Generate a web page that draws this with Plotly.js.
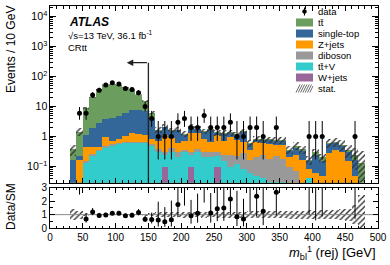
<!DOCTYPE html>
<html><head><meta charset="utf-8">
<script src="https://cdn.plot.ly/plotly-3.0.1.min.js"></script>
<style>html,body{margin:0;padding:0;background:#fff}#chart{width:390px;height:265px}</style>
</head><body><div id="chart"></div>
<script>
// ---- data (bins of 10 GeV, lower edges) ----
const binLow = [30,40,50,60,70,80,90,100,110,120,
  130,140,150,160,170,180,190,200,210,220,
  230,240,250,260,270,280,290,300,310,320,
  330,340,350,360,370,380,390,400,410,420,
  430,440,450,460,470];
const binWidth = 10;
const dataCounts = [0,6,6,24,35,52,62,56,40,37,
  29,10,4,1,1,1,3,4,2,2,
  5,2,2,2,3,1,1,2,2,1,
  0,2,0,0,0,0,1,1,1,0,
  0,0,0,1,0];
const ttbar = [0.2,1.22,7.9,18.1,34.7,49.3,51.7,45.7,37.8,30.6,
  17.45,8.3,2.2,0.14,0.1,0.1,0.1,0.1,0.1,0.07,
  0.1,0.12,0.08,0.08,0.1,0.06,0.1,0.04,0.05,0.04,
  0.04,0.05,0.04,0.02,0.1,0.05,0.02,0.06,0.05,0.07,
  0.08,0.06,0.06,0.08,0.13];
const singleTop = [0.17,0.07,0.66,1.43,2.45,2.7,3.6,4.0,5.15,6.6,
  6.3,6.0,3.2,0.8,0.9,0.6,1.0,0.45,0.8,0.45,
  0.6,1.0,0.2,0.55,0.28,0.35,0.72,0.2,0.14,0.17,
  0.18,0.17,0.2,0.14,0.15,0.15,0.07,0.18,0.1,0.27,
  0.25,0.18,0.15,0.12,0];
const zjets = [0,0.16,0.31,0.18,0.1,0.5,0.15,0.2,0.4,0.65,
  0.6,0.45,0.25,0.35,0.8,0.5,0.3,0.35,1.0,0.9,
  0.5,0.35,0.8,0.45,0.75,0.55,0.4,0.2,0.45,0.35,
  0.4,0.3,0.35,0.1,0.18,0.15,0.04,0.06,0.05,0.28,
  0.35,0.3,0.15,0.05,0];
const diboson = [0,0,0.02,0.04,0.03,0.08,0.05,0.05,0.05,0.05,
  0.05,0.05,0.05,0.08,0.05,0.1,0.1,0.05,0.05,0.08,
  0.1,0.1,0.08,0.1,0.15,0.1,0.2,0.1,0.15,0.2,
  0.15,0.2,0.15,0.08,0.05,0.02,0,0,0,0,
  0,0,0,0,0];
const ttV = [0,0,0.13,0.22,0.32,0.42,0.5,0.55,0.6,0.6,
  0.6,0.6,0.5,0.3,0.15,0.3,0.2,0.3,0.15,0.3,
  0.2,0.2,0.12,0.15,0.1,0.12,0.08,0.06,0.05,0.04,
  0.03,0.03,0.03,0.02,0.02,0,0.04,0,0,0,
  0,0,0,0,0];
const wjets = [0,0,0,0,0,0,0,0,0,0,
  0,0,0,0,0.1,0,0,0,0.1,0,
  0,0,0.1,0,0,0,0,0,0,0,
  0,0,0,0,0,0,0,0,0,0,
  0,0,0,0,0];
const relStat = [0.4,0.3,0.1,0.06,0.04,0.04,0.035,0.035,0.04,0.04,
  0.05,0.07,0.1,0.2,0.2,0.2,0.2,0.22,0.2,0.2,
  0.22,0.2,0.22,0.22,0.22,0.22,0.22,0.25,0.25,0.25,
  0.25,0.25,0.25,0.3,0.3,0.3,0.35,0.3,0.35,0.35,
  0.35,0.4,0.45,0.7,1.5];

const colors = {tt:'#6a9d5e', st:'#336699', z:'#ff9900', vv:'#999999', ttv:'#33cccc', w:'#996699'};
const FONT = 'Liberation Sans, Arial, Helvetica, sans-serif';

// ---- derived ----
const centers = binLow.map(b => b + binWidth/2);
const add = (a,b) => a.map((v,i)=>v+b[i]);
const cumW = wjets.slice();
const cumTTV = add(cumW, ttV);
const cumVV = add(cumTTV, diboson);
const cumZ = add(cumVV, zjets);
const cumST = add(cumZ, singleTop);
const total = add(cumST, ttbar);
const nz = a => a.map(v => v > 0 ? v : null);

function garwood(n){
  const lo = n>0 ? n*Math.pow(1 - 1/(9*n) - 1/(3*Math.sqrt(n)),3) : 0;
  const m = n+1;
  const hi = m*Math.pow(1 - 1/(9*m) + 1/(3*Math.sqrt(m)),3);
  return [lo, hi];
}
const dX=[], dY=[], dUp=[], dDn=[], rY=[], rUp=[], rDn=[];
binLow.forEach((b,i)=>{
  const n = dataCounts[i];
  if(n<=0) return;
  const [lo,hi] = garwood(n);
  dX.push(centers[i]); dY.push(n); dUp.push(hi-n); dDn.push(n-lo);
  rY.push(n/total[i]); rUp.push((hi-n)/total[i]); rDn.push((n-lo)/total[i]);
});

function barTrace(y, color, name){
  return {type:'bar', x:centers, y:nz(y), width:binWidth, name:name,
    marker:{color:color, line:{width:0}}, xaxis:'x', yaxis:'y', hoverinfo:'skip', showlegend:false};
}
const hatch = {shape:'/', fgcolor:'#333', bgcolor:'rgba(0,0,0,0)', size:4, solidity:0.35};
const bandBase = total.map((t,i)=>Math.max(t*(1-relStat[i]), 1e-3));
const bandH = total.map((t,i)=>t*(1+relStat[i]) - bandBase[i]);
const rBase = relStat.map(r=>1-r);
const rH = relStat.map(r=>2*r);

const arrowY = 288;
const traces = [
  barTrace(total, colors.tt, 'tt'),
  barTrace(cumST, colors.st, 'single-top'),
  barTrace(cumZ, colors.z, 'Z+jets'),
  barTrace(cumVV, colors.vv, 'diboson'),
  barTrace(cumTTV, colors.ttv, 'ttV'),
  barTrace(cumW, colors.w, 'W+jets'),
  {type:'bar', x:centers, y:bandH, base:bandBase, width:binWidth, xaxis:'x', yaxis:'y',
    marker:{color:'rgba(0,0,0,0)', line:{width:0}, pattern:hatch}, hoverinfo:'skip', showlegend:false},
  {type:'scatter', mode:'lines', x:[150,150], y:[0.001, arrowY], line:{color:'#222', width:1.3},
    xaxis:'x', yaxis:'y', showlegend:false, hoverinfo:'skip'},
  {type:'scatter', mode:'markers', x:dX, y:dY, marker:{color:'black', size:5},
    error_y:{type:'data', symmetric:false, array:dUp, arrayminus:dDn, color:'black', thickness:1, width:0},
    xaxis:'x', yaxis:'y', showlegend:false, hoverinfo:'skip'},
  // ratio
  {type:'bar', x:centers, y:rH, base:rBase, width:binWidth, xaxis:'x2', yaxis:'y2',
    marker:{color:'rgba(0,0,0,0)', line:{width:0}, pattern:hatch}, hoverinfo:'skip', showlegend:false},
  {type:'scatter', mode:'lines', x:[0,500], y:[1,1], line:{color:'#888', width:1},
    xaxis:'x2', yaxis:'y2', showlegend:false, hoverinfo:'skip'},
  {type:'scatter', mode:'markers', x:dX, y:rY, marker:{color:'black', size:5},
    error_y:{type:'data', symmetric:false, array:rUp, arrayminus:rDn, color:'black', thickness:1, width:0},
    xaxis:'x2', yaxis:'y2', showlegend:false, hoverinfo:'skip', cliponaxis:true}
];

// pixel helpers for paper coordinates (plot area: px 50..378, py 6..228)
const L=50, W=328, T=6, H=222;
const PX = p => (p-L)/W;
const PY = p => (T+H-p)/H;

const shapes = [];
const annotations = [
  {xref:'paper', yref:'paper', x:PX(67), y:PY(22), xanchor:'left', yanchor:'middle', showarrow:false,
    text:'<b><i>ATLAS</i></b>', font:{family:FONT, size:12, color:'#000'}},
  {xref:'paper', yref:'paper', x:PX(66), y:PY(35), xanchor:'left', yanchor:'middle', showarrow:false,
    text:'\u221As=13 TeV, 36.1 fb<sup>-1</sup>', font:{family:FONT, size:9.5, color:'#000'}},
  {xref:'paper', yref:'paper', x:PX(66), y:PY(48), xanchor:'left', yanchor:'middle', showarrow:false,
    text:'CRtt', font:{family:FONT, size:9.5, color:'#000'}},
  {xref:'paper', yref:'paper', x:PX(11), y:PY(50), xanchor:'center', yanchor:'middle', showarrow:false,
    textangle:-90, text:'Events / 10 GeV', font:{family:FONT, size:12, color:'#000'}},
  {xref:'paper', yref:'paper', x:PX(11), y:PY(207), xanchor:'center', yanchor:'middle', showarrow:false,
    textangle:-90, text:'Data/SM', font:{family:FONT, size:12, color:'#000'}},
  {xref:'paper', yref:'paper', x:PX(378), y:PY(253), xanchor:'right', yanchor:'middle', showarrow:false,
    text:'<i>m</i><sub>bl</sub><sup>1</sup> (rej) [GeV]', font:{family:FONT, size:13, color:'#000'}},
  {xref:'x', yref:'y', x:117, y:Math.log10(arrowY), axref:'x', ayref:'y', ax:150, ay:Math.log10(arrowY),
    showarrow:true, arrowhead:2, arrowsize:1, arrowwidth:1.3, arrowcolor:'#222', text:''}
];

// legend
const legItems = [
  {name:'data', kind:'data'},
  {name:'tt\u0304', kind:'box', color:colors.tt},
  {name:'single-top', kind:'box', color:colors.st},
  {name:'Z+jets', kind:'box', color:colors.z},
  {name:'diboson', kind:'box', color:colors.vv},
  {name:'tt\u0304+V', kind:'box', color:colors.ttv},
  {name:'W+jets', kind:'box', color:colors.w},
  {name:'stat.', kind:'hatch'}
];
legItems.forEach((it,k)=>{
  const yc = 11.5 + 11*k;
  const x0 = 296, x1 = 313;
  if(it.kind==='box'){
    shapes.push({type:'rect', xref:'paper', yref:'paper', x0:PX(x0), x1:PX(x1), y0:PY(yc+4), y1:PY(yc-4),
      fillcolor:it.color, line:{width:0}});
  } else if(it.kind==='data'){
    shapes.push({type:'line', xref:'paper', yref:'paper', x0:PX(304.5), x1:PX(304.5), y0:PY(yc+4), y1:PY(yc-4),
      line:{color:'#000', width:1}});
    shapes.push({type:'circle', xref:'paper', yref:'paper', x0:PX(302.5), x1:PX(306.5), y0:PY(yc+2), y1:PY(yc-2),
      fillcolor:'#000', line:{color:'#000', width:0.5}});
  } else {
    for(let j=0;j<7;j++){
      const a = x0 + 2.3*j;
      shapes.push({type:'line', xref:'paper', yref:'paper', x0:PX(a), y0:PY(yc+4), x1:PX(Math.min(a+4, x1)), y1:PY(yc+4-8*Math.min(1,(x1-a)/4)),
        line:{color:'#444', width:0.8}});
    }
  }
  annotations.push({xref:'paper', yref:'paper', x:PX(316), y:PY(yc), xanchor:'left', yanchor:'middle',
    showarrow:false, text:it.name, font:{family:FONT, size:9.5, color:'#000'}});
});

const axCommon = {showline:true, linecolor:'#000', linewidth:1, mirror:'ticks', ticks:'inside',
  tickcolor:'#000', zeroline:false, showgrid:false, fixedrange:true};
const layout = {
  width:390, height:265, margin:{l:L, r:390-L-W, t:T, b:265-T-H},
  paper_bgcolor:'#fff', plot_bgcolor:'#fff', barmode:'overlay', bargap:0, showlegend:false,
  font:{family:FONT, color:'#000', size:10},
  xaxis:Object.assign({}, axCommon, {domain:[0,1], range:[0,500], anchor:'y', showticklabels:false,
    dtick:50, ticklen:5, minor:{dtick:10, ticks:'inside', ticklen:2.5, tickcolor:'#000'}}),
  yaxis:Object.assign({}, axCommon, {domain:[(228-182.7)/H, 1], type:'log', range:[-1.54, 4.35],
    dtick:1, exponentformat:'power', ticklen:6, tickfont:{size:8.5},
    minor:{dtick:'D1', ticks:'inside', ticklen:3, tickcolor:'#000'}}),
  xaxis2:Object.assign({}, axCommon, {domain:[0,1], range:[0,500], anchor:'y2', matches:'x',
    dtick:50, ticklen:5, tickfont:{size:10}, minor:{dtick:10, ticks:'inside', ticklen:2.5, tickcolor:'#000'}}),
  yaxis2:Object.assign({}, axCommon, {domain:[0, (228-187.5)/H], range:[0, 3.03], anchor:'x2',
    tickvals:[0,1,2,3], ticklen:5, tickfont:{size:10},
    minor:{dtick:0.5, ticks:'inside', ticklen:2.5, tickcolor:'#000'}}),
  shapes:shapes, annotations:annotations
};
Plotly.newPlot('chart', traces, layout, {staticPlot:true, displayModeBar:false});
</script></body></html>
